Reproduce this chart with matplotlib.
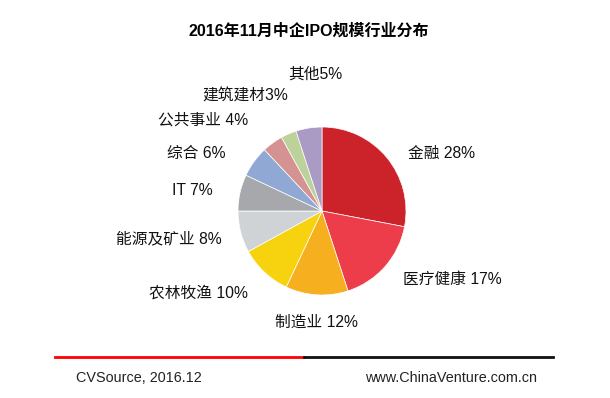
import matplotlib.pyplot as plt
from matplotlib.lines import Line2D

plt.rcParams['font.family'] = ['Liberation Sans', 'Noto Sans CJK SC', 'DejaVu Sans']

# 数据
industries = ['金融', '医疗健康', '制造业', '农林牧渔', '能源及矿业',
              'IT', '综合', '公共事业', '建筑建材', '其他']
shares = [28, 17, 12, 10, 8, 7, 6, 4, 3, 5]
colors = ['#CC2229', '#EE3D4A', '#F6AF1E', '#F7D20E', '#D0D3D6',
          '#A6A8AB', '#8FA8D4', '#D49293', '#BCD29A', '#A99BC3']
label_texts = ['金融 28%', '医疗健康 17%', '制造业 12%', '农林牧渔 10%', '能源及矿业 8%',
               'IT 7%', '综合 6%', '公共事业 4%', '建筑建材3%', '其他5%']

# 标签位置(以饼半径为单位)
label_xy = [(1.02, 0.69), (0.96, -0.82), (-0.07, -1.33), (-0.88, -0.98),
            (-1.19, -0.33), (-1.30, 0.24), (-1.15, 0.69), (-0.88, 1.08),
            (-0.40, 1.37), (-0.08, 1.63)]
label_ha = ['left', 'left', 'center', 'right', 'right',
            'right', 'right', 'right', 'right', 'center']

W, H = 610, 398
cx, cy, r = 322, 211, 84

fig = plt.figure(figsize=(W / 100, H / 100), dpi=100)
ax = fig.add_axes([0, 0, 1, 1])
ax.pie(shares, colors=colors, startangle=90, counterclock=False,
       wedgeprops=dict(edgecolor='white', linewidth=0.5))
ax.set_xlim(-cx / r, (W - cx) / r)
ax.set_ylim((cy - H) / r, cy / r)
ax.set_aspect('auto')
ax.axis('off')

for txt, (x, y), ha in zip(label_texts, label_xy, label_ha):
    ax.text(x, y, txt, ha=ha, va='center', fontsize=11.3, color='#111111')

fig.text(309 / W, 1 - 31 / H, '2016年11月中企IPO规模行业分布',
         ha='center', va='center', fontsize=11.5, fontweight='bold')

# 底部分割线
ly = 1 - 357 / H
fig.add_artist(Line2D([55 / W, 304 / W], [ly, ly], color='#FF0000', lw=2))
fig.add_artist(Line2D([304 / W, 553 / W], [ly, ly], color='#111111', lw=2))

fig.text(76 / W, 1 - 378 / H, 'CVSource, 2016.12', ha='left', va='center',
         fontsize=10.4, color='#222222')
fig.text(537 / W, 1 - 378 / H, 'www.ChinaVenture.com.cn', ha='right', va='center',
         fontsize=10.4, color='#222222')

fig.savefig('out.png', dpi=100)
